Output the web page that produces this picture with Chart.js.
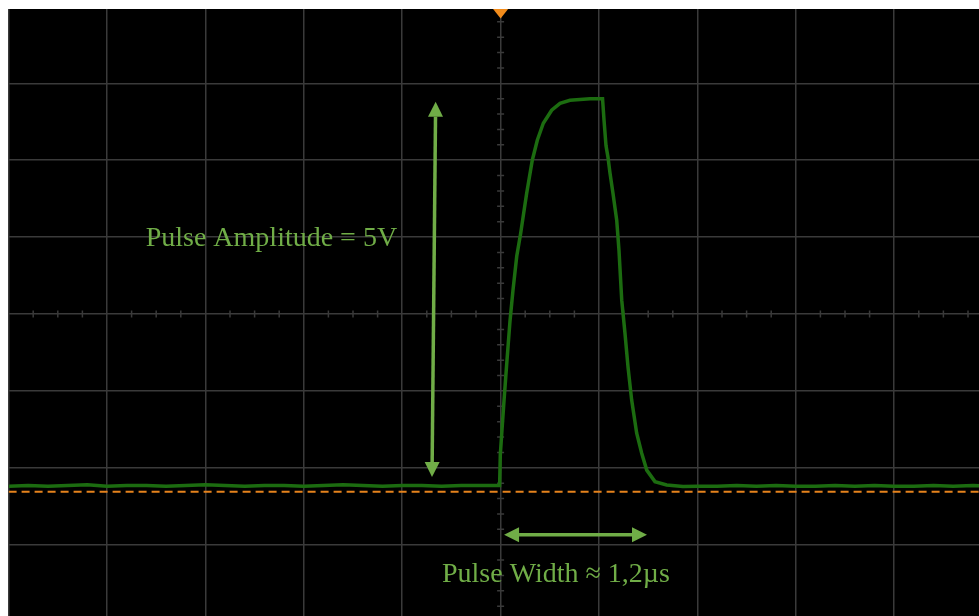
<!DOCTYPE html>
<html>
<head>
<meta charset="utf-8">
<title>Pulse</title>
<script src="https://cdn.jsdelivr.net/npm/chart.js@4.4.1/dist/chart.umd.min.js"></script>
<style>
  html, body { margin: 0; padding: 0; background: #fff; width: 979px; height: 616px; overflow: hidden; }
  #screen { position: absolute; left: 8px; top: 9px; width: 971px; height: 607px; overflow: hidden; background: #000; }
  #scope { position: absolute; left: -8px; top: -9px; }
</style>
</head>
<body>
<div id="screen"><canvas id="scope" width="1000" height="630"></canvas></div>
<script>
// Scope settings: 10 x 8 divisions, 1 µs/div, 1 V/div, trigger at t = 0
const US_PER_DIV = 1;
const V_PER_DIV = 1;
const H_DIVS = 10;
const V_DIVS = 8;
const GROUND_DIVS_BELOW_CENTRE = 2.31;

// Captured trace: time (µs) and voltage (V)
const timeUs = [
  -5.0, -4.8, -4.6, -4.4, -4.2, -4.0, -3.8, -3.6, -3.4, -3.2, -3.0, -2.8, -2.6,
  -2.4, -2.2, -2.0, -1.8, -1.6, -1.4, -1.2, -1.0, -0.8, -0.6, -0.4, -0.2, -0.01,
  -0.003, 0.014, 0.035, 0.065, 0.095, 0.126, 0.164, 0.204, 0.245, 0.265, 0.322,
  0.373, 0.434, 0.519, 0.604, 0.705, 0.807, 0.909, 1.036,
  1.051, 1.071, 1.091, 1.112, 1.142, 1.180, 1.203, 1.231, 1.264, 1.295, 1.332,
  1.383, 1.434, 1.485, 1.569, 1.688, 1.854,
  2.0, 2.2, 2.4, 2.6, 2.8, 3.0, 3.2, 3.4, 3.6, 3.8, 4.0, 4.2, 4.4, 4.6, 4.8, 5.0
];
const traceV = [
  0.07, 0.08, 0.07, 0.08, 0.09, 0.07, 0.08, 0.08, 0.07, 0.08, 0.09, 0.08, 0.07,
  0.08, 0.08, 0.07, 0.08, 0.09, 0.08, 0.07, 0.08, 0.08, 0.07, 0.08, 0.08, 0.08,
  0.48, 0.80, 1.19, 1.71, 2.21, 2.62, 3.06, 3.36, 3.71, 3.88, 4.31,
  4.57, 4.79, 4.96, 5.05, 5.09, 5.10, 5.11, 5.11,
  4.83, 4.50, 4.35, 4.14, 3.88, 3.53, 3.14, 2.49, 2.06, 1.62, 1.19,
  0.76, 0.50, 0.28, 0.13, 0.087, 0.068,
  0.07, 0.07, 0.08, 0.07, 0.08, 0.07, 0.07, 0.08, 0.07, 0.08, 0.07, 0.07, 0.08, 0.07, 0.08, 0.07
];

// Ground reference marker (0 V) across the screen
const groundTimeUs = [-5, 5];
const groundV = [0, 0];

// Annotation anchors in (µs, V)
const amplitudeArrow = { from: [-0.697, 0.19], to: [-0.660, 5.07] };
const widthArrow = { from: [0.035, -0.559], to: [1.488, -0.559] };
const amplitudeLabel = { text: 'Pulse Amplitude = 5V', at: [-3.607, 3.19] };
const widthLabel = { text: 'Pulse Width \u2248 1,2\u00b5s', at: [-0.596, -1.17] };

const T_MIN = -H_DIVS / 2 * US_PER_DIV;
const T_MAX = H_DIVS / 2 * US_PER_DIV;
const V_MIN = (-V_DIVS / 2 + GROUND_DIVS_BELOW_CENTRE) * V_PER_DIV;
const V_MAX = (V_DIVS / 2 + GROUND_DIVS_BELOW_CENTRE) * V_PER_DIV;
const V_CENTRE = GROUND_DIVS_BELOW_CENTRE * V_PER_DIV;

const GRID = '#3a3a3a';
const TRACE = '#1c6c10';
const MARKER = '#f28c1c';
const GND = '#e5821c';
const NOTE = '#70ad47';

const tracePoints = timeUs.map((t, i) => ({ x: t, y: traceV[i] }));
const groundPoints = groundTimeUs.map((t, i) => ({ x: t, y: groundV[i] }));

function divisionTicks(min, step, count) {
  const out = [];
  for (let i = 0; i <= count; i++) out.push({ value: +(min + i * step).toFixed(6) });
  return out;
}

// Minor graduations on the two centre axes
const graticulePlugin = {
  id: 'graticule',
  beforeDatasetsDraw(chart) {
    const { ctx, scales: { x, y } } = chart;
    const cx = x.getPixelForValue(0);
    const cy = y.getPixelForValue(V_CENTRE);
    ctx.save();
    ctx.strokeStyle = GRID;
    ctx.lineWidth = 1.5;
    ctx.beginPath();
    for (let k = -H_DIVS * 2; k <= H_DIVS * 2; k++) {
      if (k % 4 === 0) continue;
      const px = x.getPixelForValue(k * US_PER_DIV / 4);
      ctx.moveTo(px, cy - 3.5);
      ctx.lineTo(px, cy + 3.5);
    }
    for (let k = -V_DIVS * 5; k <= V_DIVS * 5; k++) {
      if (k % 5 === 0) continue;
      const py = y.getPixelForValue(V_CENTRE + k * V_PER_DIV / 5);
      ctx.moveTo(cx - 3.5, py);
      ctx.lineTo(cx + 3.5, py);
    }
    ctx.stroke();
    ctx.restore();
  }
};

function drawArrow(ctx, x1, y1, x2, y2) {
  const head = 15, half = 7.5;
  const dx = x2 - x1, dy = y2 - y1;
  const len = Math.hypot(dx, dy);
  const ux = dx / len, uy = dy / len;
  const nx = -uy, ny = ux;
  ctx.beginPath();
  ctx.moveTo(x1 + ux * head, y1 + uy * head);
  ctx.lineTo(x2 - ux * head, y2 - uy * head);
  ctx.stroke();
  [[x1, y1, 1], [x2, y2, -1]].forEach(([px, py, s]) => {
    const bx = px + s * ux * head, by = py + s * uy * head;
    ctx.beginPath();
    ctx.moveTo(px, py);
    ctx.lineTo(bx + nx * half, by + ny * half);
    ctx.lineTo(bx - nx * half, by - ny * half);
    ctx.closePath();
    ctx.fill();
  });
}

// Trigger marker and the measurement notes
const notesPlugin = {
  id: 'notes',
  afterDatasetsDraw(chart) {
    const { ctx, chartArea, scales: { x, y } } = chart;
    const P = ([t, v]) => [x.getPixelForValue(t), y.getPixelForValue(v)];
    ctx.save();
    // trigger position marker
    const tx = x.getPixelForValue(0);
    ctx.fillStyle = MARKER;
    ctx.beginPath();
    ctx.moveTo(tx - 9.5, chartArea.top);
    ctx.lineTo(tx + 9.5, chartArea.top);
    ctx.lineTo(tx, chartArea.top + 12);
    ctx.closePath();
    ctx.fill();

    ctx.strokeStyle = NOTE;
    ctx.fillStyle = NOTE;
    ctx.lineWidth = 3.5;
    drawArrow(ctx, ...P(amplitudeArrow.from), ...P(amplitudeArrow.to));
    drawArrow(ctx, ...P(widthArrow.from), ...P(widthArrow.to));

    ctx.font = '28px "Liberation Serif", "Times New Roman", serif';
    ctx.textAlign = 'left';
    ctx.textBaseline = 'alphabetic';
    [amplitudeLabel, widthLabel].forEach(l => {
      const [px, py] = P(l.at);
      ctx.fillText(l.text, px, py);
    });
    ctx.restore();
  }
};

new Chart(document.getElementById('scope'), {
  type: 'line',
  data: {
    datasets: [
      {
        label: 'CH1',
        data: tracePoints,
        borderColor: TRACE,
        borderWidth: 3.5,
        pointRadius: 0,
        tension: 0,
        fill: false
      },
      {
        label: 'GND',
        data: groundPoints,
        borderColor: GND,
        borderWidth: 2,
        borderDash: [8, 5],
        pointRadius: 0,
        fill: false
      }
    ]
  },
  options: {
    responsive: false,
    devicePixelRatio: 1,
    animation: false,
    events: [],
    layout: { autoPadding: false, padding: { left: 8.6, top: 6.4, right: 7.4, bottom: 8.4 } },
    plugins: { legend: { display: false }, tooltip: { enabled: false } },
    scales: {
      x: {
        type: 'linear',
        min: T_MIN,
        max: T_MAX,
        afterBuildTicks: s => { s.ticks = divisionTicks(T_MIN, US_PER_DIV, H_DIVS); },
        afterFit: s => { s.height = 0; },
        ticks: { display: false },
        border: { display: false },
        grid: { color: GRID, lineWidth: 1.5, drawTicks: false }
      },
      y: {
        type: 'linear',
        min: V_MIN,
        max: V_MAX,
        afterBuildTicks: s => { s.ticks = divisionTicks(V_MIN, V_PER_DIV, V_DIVS); },
        afterFit: s => { s.width = 0; },
        ticks: { display: false },
        border: { display: false },
        grid: { color: GRID, lineWidth: 1.5, drawTicks: false }
      }
    }
  },
  plugins: [graticulePlugin, notesPlugin]
});
</script>
</body>
</html>
